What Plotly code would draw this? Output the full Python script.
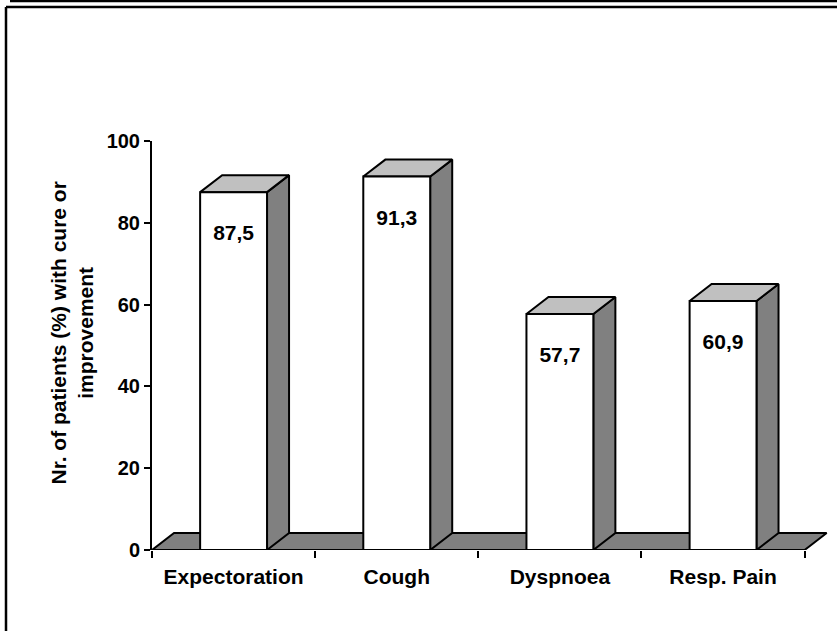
import plotly.graph_objects as go

categories = ["Expectoration", "Cough", "Dyspnoea", "Resp. Pain"]
values = [87.5, 91.3, 57.7, 60.9]
value_labels = ["87,5", "91,3", "57,7", "60,9"]
y_ticks = [0, 20, 40, 60, 80, 100]

FONT = "Liberation Sans, Arial, Helvetica, sans-serif"
W, H = 837, 631
ML, MR, MT, MB = 152, 3, 141, 81
X_RANGE = [-0.5, 3.68]
Y_RANGE = [0, 100]

HALF = 0.205   # half bar width (category units)
DX = 0.135     # depth offset, x (category units)
DY = 4.15      # depth offset, y (value units)
LABEL_DROP = 10.5

FRONT = "#ffffff"
SIDE = "#808080"
TOP = "#c0c0c0"
FLOOR = "#808080"

fig = go.Figure()

def poly(xs, ys, color):
    fig.add_trace(go.Scatter(
        x=xs + [xs[0]], y=ys + [ys[0]], mode="lines", fill="toself",
        fillcolor=color, line=dict(color="black", width=2),
        hoverinfo="skip", showlegend=False))

n = len(categories)
x0, x1 = -0.5, n - 0.5
# floor
poly([x0, x1, x1 + DX, x0 + DX], [0, 0, DY, DY], FLOOR)
# x axis line
fig.add_trace(go.Scatter(x=[x0, x1], y=[0, 0], mode="lines",
                         line=dict(color="black", width=2),
                         hoverinfo="skip", showlegend=False))
# bars
for i, v in enumerate(values):
    l, r = i - HALF, i + HALF
    poly([r, r + DX, r + DX, r], [0, DY, v + DY, v], SIDE)
    poly([l, r, r + DX, l + DX], [v, v, v + DY, v + DY], TOP)
    poly([l, r, r, l], [0, 0, v, v], FRONT)

fig.add_trace(go.Scatter(
    x=list(range(n)), y=[v - LABEL_DROP for v in values],
    text=value_labels, mode="text",
    textfont=dict(family=FONT, size=21, color="black", weight="bold"),
    hoverinfo="skip", showlegend=False))

pw = W - ML - MR
ph = H - MT - MB
def px(x):
    return (x - ML) / pw
def py(y):
    return (H - MB - y) / ph

shapes = [
    dict(type="line", xref="paper", yref="paper", x0=px(10), x1=px(840), y0=py(1), y1=py(1),
         line=dict(color="black", width=2.5)),
    dict(type="line", xref="paper", yref="paper", x0=px(6), x1=px(840), y0=py(7), y1=py(7),
         line=dict(color="black", width=2.5)),
    dict(type="line", xref="paper", yref="paper", x0=px(6), x1=px(6), y0=py(7), y1=py(640),
         line=dict(color="black", width=2.5)),
]

fig.update_layout(
    width=W, height=H,
    margin=dict(l=ML, r=MR, t=MT, b=MB, pad=0),
    paper_bgcolor="white", plot_bgcolor="white",
    font=dict(family=FONT, color="black", weight="bold"),
    showlegend=False,
    shapes=shapes,
    xaxis=dict(range=X_RANGE, showgrid=False, zeroline=False, showline=False,
               tickmode="array", tickvals=list(range(n)), ticktext=categories,
               ticks="", ticklabelstandoff=12,
               tickfont=dict(size=21, family=FONT, weight="bold"),
               minor=dict(tickmode="array", tickvals=[i - 0.5 for i in range(n + 1)],
                          ticks="outside", ticklen=7, tickwidth=2, tickcolor="black",
                          showgrid=False)),
    yaxis=dict(range=Y_RANGE, showgrid=False, zeroline=False, showline=True,
               linecolor="black", linewidth=2, ticks="outside", ticklen=6,
               tickwidth=2, tickcolor="black", tickmode="array", tickvals=y_ticks,
               tickfont=dict(size=20, family=FONT, weight="bold")),
    annotations=[dict(
        text="Nr. of patients (%) with cure or<br>improvement",
        textangle=-90, xref="paper", yref="paper", x=px(71.5), y=py(333),
        xanchor="center", yanchor="middle", showarrow=False,
        font=dict(size=21, family=FONT, weight="bold"))],
)

fig.write_html("out.html", config={"displayModeBar": False},
               post_script="document.body.style.margin='0';document.body.style.overflow='hidden';")
